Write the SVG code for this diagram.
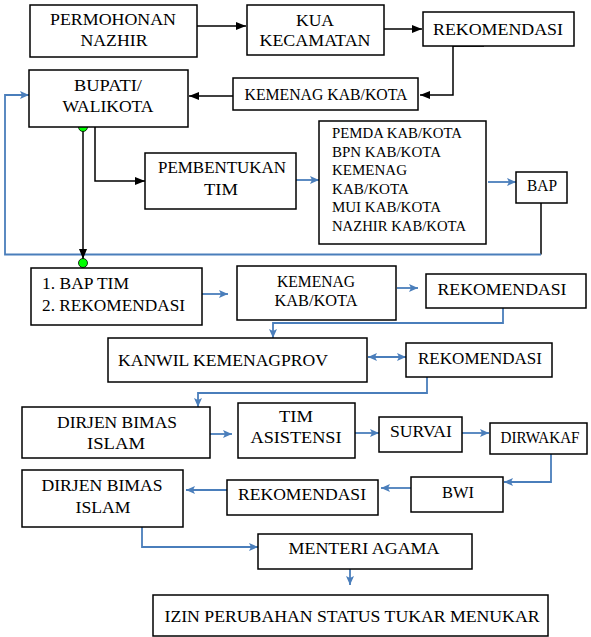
<svg xmlns="http://www.w3.org/2000/svg" width="591" height="637" viewBox="0 0 591 637" font-family="Liberation Serif, DejaVu Serif, serif">
<style>
.box{fill:#fff;stroke:#000;stroke-width:1.5}
.t{font-size:17.5px;text-anchor:middle;fill:#000}
.m{font-size:16px;text-anchor:middle;fill:#000}
.l{font-size:17.5px;text-anchor:start;fill:#000}
.s{font-size:14.5px;fill:#000}
.bl{fill:none;stroke:#000;stroke-width:1.5}
.bu{fill:none;stroke:#4a7ebb;stroke-width:1.8}
.dot{fill:#00ff00;stroke:#000;stroke-width:0.8}
</style>
<defs>
<marker id="ab" viewBox="0 0 10 8" refX="10" refY="4" markerWidth="10" markerHeight="8" markerUnits="userSpaceOnUse" orient="auto"><path d="M0,0 L10,4 L0,8 z" fill="#000"/></marker>
<marker id="au" viewBox="0 0 9 8" refX="9" refY="4" markerWidth="9" markerHeight="8" markerUnits="userSpaceOnUse" orient="auto-start-reverse"><path d="M0,0 L9,4 L0,8 L2,4 z" fill="#4a7ebb"/></marker>
</defs>
<rect width="591" height="637" fill="#fff"/>
<g id="connectors">
<path class="bl" d="M197,26 H246" marker-end="url(#ab)"/>
<path class="bl" d="M384,29 H422" marker-end="url(#ab)"/>
<path class="bl" d="M453,46 H484" stroke-width="2.5"/>
<path class="bl" d="M453,46 V95 H420" marker-end="url(#ab)"/>
<path class="bl" d="M233,96 H189" marker-end="url(#ab)"/>
<path class="bl" d="M541,203 V254.5" stroke="#222"/>
<path class="bu" d="M541,254.5 H5 V95 H29" marker-end="url(#au)"/>
<path class="bl" d="M83,127 V259" marker-end="url(#ab)"/>
<path class="bl" d="M95,127 V181 H145" marker-end="url(#ab)"/>
<path class="bu" d="M296,180 H319" marker-end="url(#au)"/>
<path class="bu" d="M488,182 H516" marker-end="url(#au)"/>
<path class="bu" d="M202,294 H228" marker-end="url(#au)"/>
<path class="bu" d="M397,288 H418" marker-end="url(#au)"/>
<path class="bu" d="M503,308 V323 H273 V338" marker-end="url(#au)"/>
<path class="bu" d="M368,357 H406" marker-start="url(#au)" marker-end="url(#au)"/>
<path class="bu" d="M427,377 V393 H198 V407" marker-end="url(#au)"/>
<path class="bu" d="M210,434 H232" marker-end="url(#au)"/>
<path class="bu" d="M355,433 H379" marker-end="url(#au)"/>
<path class="bu" d="M462,433 H489" marker-end="url(#au)"/>
<path class="bu" d="M551,454 V482 H504" marker-end="url(#au)"/>
<path class="bu" d="M411,488 H381" marker-end="url(#au)"/>
<path class="bu" d="M227,490 H186" marker-end="url(#au)"/>
<path class="bu" d="M142,527 V547 H258" marker-end="url(#au)"/>
<path class="bu" d="M350,569 V585" marker-end="url(#au)"/>
<circle class="dot" cx="83" cy="127" r="4.5"/>
<circle class="dot" cx="83" cy="263" r="4.5"/>
</g>
<g id="permohonan"><rect class="box" x="30" y="5" width="167" height="52"/><text class="t" x="113" y="25" textLength="126" lengthAdjust="spacingAndGlyphs">PERMOHONAN</text><text class="t" x="114" y="46" textLength="67" lengthAdjust="spacingAndGlyphs">NAZHIR</text></g>
<g id="kua"><rect class="box" x="247" y="5" width="137" height="50"/><text class="t" x="315" y="26" textLength="38" lengthAdjust="spacingAndGlyphs">KUA</text><text class="t" x="315" y="46" textLength="111" lengthAdjust="spacingAndGlyphs">KECAMATAN</text></g>
<g id="rekom1"><rect class="box" x="423" y="12" width="151" height="34"/><text class="t" x="498" y="35" textLength="130" lengthAdjust="spacingAndGlyphs">REKOMENDASI</text></g>
<g id="kemenag1"><rect class="box" x="233" y="78" width="185" height="32"/><text class="m" x="326" y="100" textLength="163" lengthAdjust="spacingAndGlyphs">KEMENAG KAB/KOTA</text></g>
<g id="bupati"><rect class="box" x="29" y="70" width="159" height="57"/><text class="t" x="108" y="91" textLength="68" lengthAdjust="spacingAndGlyphs">BUPATI/</text><text class="t" x="108" y="112" textLength="91" lengthAdjust="spacingAndGlyphs">WALIKOTA</text></g>
<g id="pembentukan"><rect class="box" x="145" y="153" width="151" height="56"/><text class="t" x="222" y="173" textLength="128" lengthAdjust="spacingAndGlyphs">PEMBENTUKAN</text><text class="t" x="221" y="195" textLength="34" lengthAdjust="spacingAndGlyphs">TIM</text></g>
<g id="tim-list"><rect class="box" x="319" y="121" width="167" height="123"/>
<text class="s" x="332" y="138" textLength="130" lengthAdjust="spacingAndGlyphs">PEMDA KAB/KOTA</text>
<text class="s" x="332" y="157" textLength="109" lengthAdjust="spacingAndGlyphs">BPN KAB/KOTA</text>
<text class="s" x="332" y="175" textLength="75" lengthAdjust="spacingAndGlyphs">KEMENAG</text>
<text class="s" x="332" y="194" textLength="77" lengthAdjust="spacingAndGlyphs">KAB/KOTA</text>
<text class="s" x="332" y="212" textLength="109" lengthAdjust="spacingAndGlyphs">MUI KAB/KOTA</text>
<text class="s" x="332" y="231" textLength="134" lengthAdjust="spacingAndGlyphs">NAZHIR KAB/KOTA</text></g>
<g id="bap"><rect class="box" x="516" y="172" width="51" height="31"/><text class="m" x="542" y="191" textLength="30" lengthAdjust="spacingAndGlyphs">BAP</text></g>
<g id="baptim"><rect class="box" x="31" y="268" width="171" height="57"/><text class="l" x="42" y="289" textLength="87" lengthAdjust="spacingAndGlyphs">1. BAP TIM</text><text class="l" x="42" y="311" textLength="143" lengthAdjust="spacingAndGlyphs">2. REKOMENDASI</text></g>
<g id="kemenag2"><rect class="box" x="237" y="266" width="159" height="54"/><text class="m" x="316" y="287" textLength="78" lengthAdjust="spacingAndGlyphs">KEMENAG</text><text class="m" x="316" y="306" textLength="83" lengthAdjust="spacingAndGlyphs">KAB/KOTA</text></g>
<g id="rekom2"><rect class="box" x="426" y="274" width="160" height="34"/><text class="t" x="502" y="295" textLength="129" lengthAdjust="spacingAndGlyphs">REKOMENDASI</text></g>
<g id="kanwil"><rect class="box" x="108" y="338" width="259" height="44"/><text class="l" x="118" y="366" textLength="210" lengthAdjust="spacingAndGlyphs">KANWIL KEMENAGPROV</text></g>
<g id="rekom3"><rect class="box" x="406" y="343" width="146" height="34"/><text class="t" x="480" y="364" textLength="124" lengthAdjust="spacingAndGlyphs">REKOMENDASI</text></g>
<g id="dirjen1"><rect class="box" x="22" y="407" width="188" height="51"/><text class="t" x="117" y="428" textLength="120" lengthAdjust="spacingAndGlyphs">DIRJEN BIMAS</text><text class="t" x="116" y="449" textLength="58" lengthAdjust="spacingAndGlyphs">ISLAM</text></g>
<g id="asistensi"><rect class="box" x="238" y="403" width="117" height="55"/><text class="t" x="296" y="422" textLength="34" lengthAdjust="spacingAndGlyphs">TIM</text><text class="t" x="296" y="443" textLength="91" lengthAdjust="spacingAndGlyphs">ASISTENSI</text></g>
<g id="survai"><rect class="box" x="379" y="417" width="83" height="35"/><text class="t" x="421" y="437" textLength="62" lengthAdjust="spacingAndGlyphs">SURVAI</text></g>
<g id="dirwakaf"><rect class="box" x="490" y="423" width="97" height="31"/><text class="m" x="540" y="443" textLength="79" lengthAdjust="spacingAndGlyphs">DIRWAKAF</text></g>
<g id="bwi"><rect class="box" x="411" y="477" width="92" height="35"/><text class="t" x="458" y="498" textLength="32" lengthAdjust="spacingAndGlyphs">BWI</text></g>
<g id="rekom4"><rect class="box" x="227" y="480" width="151" height="35"/><text class="t" x="302" y="500" textLength="128" lengthAdjust="spacingAndGlyphs">REKOMENDASI</text></g>
<g id="dirjen2"><rect class="box" x="22" y="470" width="161" height="57"/><text class="t" x="102" y="491" textLength="121" lengthAdjust="spacingAndGlyphs">DIRJEN BIMAS</text><text class="t" x="103" y="513" textLength="55" lengthAdjust="spacingAndGlyphs">ISLAM</text></g>
<g id="menteri"><rect class="box" x="258" y="534" width="214" height="35"/><text class="t" x="364" y="554" textLength="151" lengthAdjust="spacingAndGlyphs">MENTERI AGAMA</text></g>
<g id="izin"><rect class="box" x="153" y="595" width="395" height="41"/><text class="t" x="352" y="622" textLength="375" lengthAdjust="spacingAndGlyphs">IZIN PERUBAHAN STATUS TUKAR MENUKAR</text></g>
</svg>
